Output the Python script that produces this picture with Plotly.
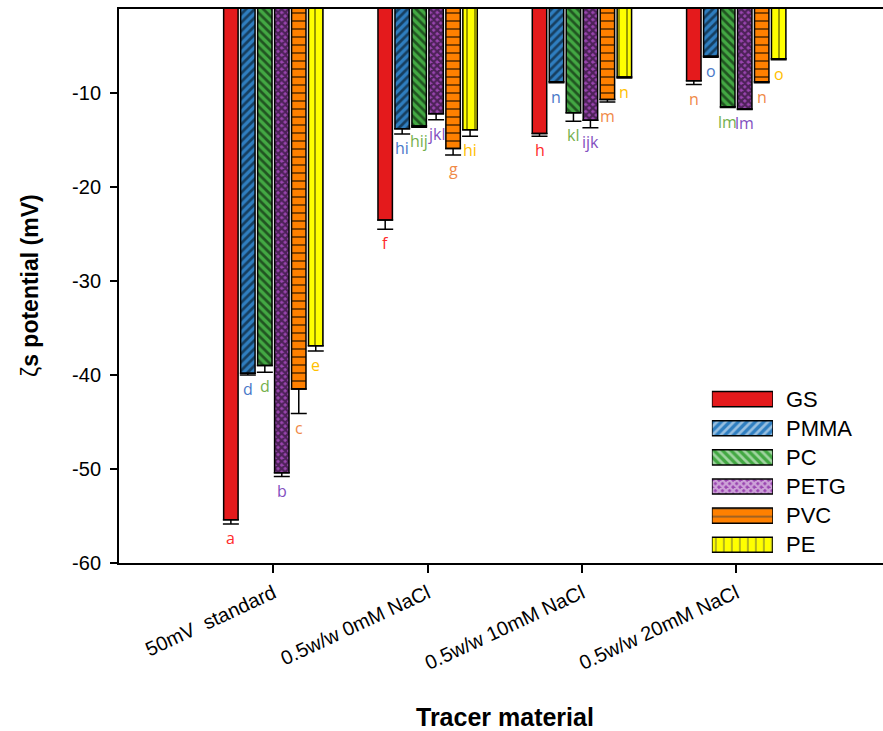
import plotly.graph_objects as go

# ---------------- data ----------------
categories = ["50mV  standard", "0.5w/w 0mM NaCl", "0.5w/w 10mM NaCl", "0.5w/w 20mM NaCl"]
materials = ["GS", "PMMA", "PC", "PETG", "PVC", "PE"]

GS = [-55.4, -23.5, -14.3, -8.7]
PMMA = [-39.8, -13.8, -8.8, -6.1]
PC = [-39.0, -13.5, -12.1, -11.45]
PETG = [-50.4, -12.2, -12.9, -11.7]
PVC = [-41.5, -15.9, -10.7, -8.8]
PE = [-36.9, -13.9, -8.3, -6.35]

GS_err = [0.45, 1.0, 0.3, 0.4]
PMMA_err = [0.2, 0.55, 0.1, 0.1]
PC_err = [0.7, 0.15, 0.9, 0.1]
PETG_err = [0.4, 0.65, 0.8, 0.05]
PVC_err = [2.6, 0.7, 0.25, 0.1]
PE_err = [0.55, 0.7, 0.1, 0.1]

GS_letters = ["a", "f", "h", "n"]
PMMA_letters = ["d", "hi", "n", "o"]
PC_letters = ["d", "hij", "kl", "lm"]
PETG_letters = ["b", "jkl", "ijk", "lm"]
PVC_letters = ["c", "g", "m", "n"]
PE_letters = ["e", "hi", "n", "o"]

y_ticks = [-60, -50, -40, -30, -20, -10]
y_tick_text = ["-60", "-50", "-40", "-30", "-20", "-10"]

values = [GS, PMMA, PC, PETG, PVC, PE]
errors = [GS_err, PMMA_err, PC_err, PETG_err, PVC_err, PE_err]
letters = [GS_letters, PMMA_letters, PC_letters, PETG_letters, PVC_letters, PE_letters]

# ---------------- styles ----------------
RED_T, BLUE_T, GREEN_T, PURP_T, ORNG_T, YELL_T = "#FF2A2A", "#4A78C8", "#74B04C", "#8350C0", "#F08A48", "#FFC000"
letter_colors = [
    [RED_T, RED_T, RED_T, ORNG_T],
    [BLUE_T] * 4,
    [GREEN_T] * 4,
    [PURP_T] * 4,
    [ORNG_T] * 4,
    [YELL_T] * 4,
]
bar_colors = ["#E41A1C", "#2F7EC0", "#43A843", "#9A45B0", "#FF8000", "#FFFF00"]
pat_shapes = ["", "/", "\\", "x", "-", "|"]
pat_fg = ["black"] * 6
pat_size = [6, 6, 6, 5, 8, 8]
pat_solid = [0.3, 0.45, 0.45, 0.7, 0.25, 0.2]

BARGAP = 0.34
FONT = "Liberation Sans, Arial, sans-serif"

fig = go.Figure()

for j, name in enumerate(materials):
    fig.add_trace(go.Bar(
        x=categories, y=values[j], name=name,
        marker=dict(color=bar_colors[j], line=dict(color="black", width=1.5),
                    pattern=dict(shape=pat_shapes[j], fgcolor=pat_fg[j], bgcolor=bar_colors[j],
                                 size=pat_size[j], solidity=pat_solid[j])),
        error_y=dict(type="data", symmetric=False, array=[0] * len(categories),
                     arrayminus=errors[j], color="black", thickness=1.5, width=8),
        showlegend=False,
        xaxis="x", yaxis="y",
    ))

# significance letters under each error bar
slot = (1 - BARGAP) / len(materials)
for j in range(len(materials)):
    for i in range(len(categories)):
        fig.add_annotation(
            x=i + (j - (len(materials) - 1) / 2) * slot,
            y=values[j][i] - errors[j][i],
            xref="x", yref="y", text=letters[j][i], showarrow=False,
            yanchor="top", xanchor="center", yshift=-1,
            font=dict(family="Open Sans, sans-serif", size=16, color=letter_colors[j][i]),
        )

# legend drawn as an inset horizontal bar chart
fig.add_trace(go.Bar(
    y=materials, x=[1] * len(materials), orientation="h", width=0.52,
    marker=dict(color=bar_colors, line=dict(color="black", width=1.5),
                pattern=dict(shape=pat_shapes, fgcolor=pat_fg, bgcolor=bar_colors,
                             size=pat_size, solidity=pat_solid)),
    showlegend=False, hoverinfo="skip", xaxis="x2", yaxis="y2",
))

fig.update_layout(
    width=883, height=731,
    margin=dict(l=119, r=0, t=9, b=168),
    paper_bgcolor="white", plot_bgcolor="white",
    barmode="group", bargap=BARGAP, bargroupgap=0.15,
    showlegend=False,
    font=dict(family=FONT, color="black"),
    xaxis=dict(
        range=[-1, 3.951], showline=True, linecolor="black", linewidth=2, mirror=True,
        ticks="outside", ticklen=8, tickwidth=1.5, tickcolor="black",
        tickangle=-25, tickfont=dict(size=20, family=FONT), ticklabelstandoff=1,
        showgrid=False, zeroline=False,
    ),
    yaxis=dict(
        range=[-60, -1.06], tickvals=y_ticks, ticktext=y_tick_text,
        showline=True, linecolor="black", linewidth=2,
        ticks="outside", ticklen=7, tickwidth=1.5, tickcolor="black",
        tickfont=dict(size=20, family=FONT), ticklabelstandoff=5,
        showgrid=False, zeroline=False,
    ),
    xaxis2=dict(domain=[0.776, 0.856], anchor="y2", range=[0, 1], visible=False, fixedrange=True),
    yaxis2=dict(domain=[0.0067, 0.322], anchor="x2", side="right", autorange="reversed",
                showline=False, showgrid=False, zeroline=False, ticks="",
                ticklabelstandoff=12, tickfont=dict(size=22, family=FONT)),
)

# axis titles
fig.add_annotation(
    x=(505 - 119) / 764, y=(563 - 717) / 554, xref="paper", yref="paper",
    text="<b>Tracer material</b>", showarrow=False, xanchor="center", yanchor="middle",
    font=dict(size=25, family=FONT),
)
fig.add_annotation(
    x=(30 - 119) / 764, y=0.5, xref="paper", yref="paper", textangle=-90,
    text="ζ<b>s potential (mV)</b>", showarrow=False, xanchor="center", yanchor="middle",
    font=dict(size=23, family=FONT),
)

fig.write_html("out.html")
